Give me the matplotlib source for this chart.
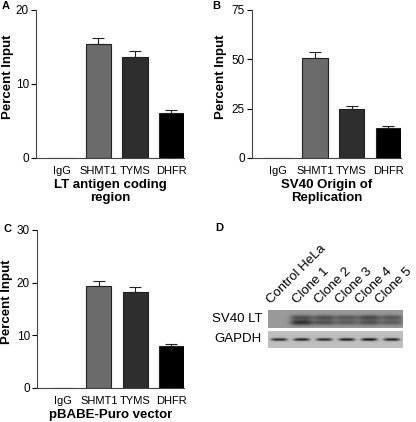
import matplotlib
matplotlib.use("Agg")
import matplotlib.pyplot as plt
import numpy as np

plt.rcParams['font.family'] = ['Liberation Sans', 'DejaVu Sans']

categories = ["IgG", "SHMT1", "TYMS", "DHFR"]
bar_colors = ["#ffffff", "#6b6b6b", "#2e2e2e", "#000000"]

lt_values = [0, 15.45, 13.6, 6.1]
lt_errors = [0, 0.75, 0.8, 0.35]

ori_values = [0, 50.7, 24.8, 15.2]
ori_errors = [0, 2.8, 1.6, 0.8]

pbabe_values = [0, 19.3, 18.2, 7.9]
pbabe_errors = [0, 1.1, 0.9, 0.5]

lane_labels = ["Control HeLa", "Clone 1", "Clone 2", "Clone 3", "Clone 4", "Clone 5"]
lt_upper_band = [0.0, 0.55, 0.55, 0.5, 0.6, 0.5]
lt_lower_band = [0.0, 0.8, 0.55, 0.45, 0.55, 0.45]
gapdh_band = [0.75, 0.8, 0.75, 0.8, 0.85, 0.8]

W, H = 416, 422
fig = plt.figure(figsize=(W / 100, H / 100), dpi=100)

def ax_px(x0, y0, x1, y1):
    return fig.add_axes([x0 / W, 1 - y1 / H, (x1 - x0) / W, (y1 - y0) / H])

def bar_panel(ax, vals, errs, ymax, yticks, xlabel, lx, ly):
    x = np.arange(len(categories))
    ax.bar(x, vals, width=0.69, color=bar_colors, edgecolor="#222222", linewidth=0.8, zorder=2)
    for xi, v, e in zip(x, vals, errs):
        if v > 0:
            ax.errorbar(xi, v, yerr=[[0], [e]], fmt="none", ecolor="#222222",
                        elinewidth=0.8, capsize=4.5, capthick=0.8, zorder=3)
    ax.set_xlim(-0.71, 3.345)
    ax.set_ylim(0, ymax)
    ax.set_yticks(yticks)
    ax.set_xticks(x)
    ax.set_xticklabels(categories, fontsize=8)
    ax.tick_params(axis="x", length=0, pad=6)
    ax.tick_params(axis="y", labelsize=8.5, length=3.5, width=0.8, pad=1.5)
    for s in ["top", "right"]:
        ax.spines[s].set_visible(False)
    for s in ["left", "bottom"]:
        ax.spines[s].set_linewidth(0.8)
        ax.spines[s].set_color("#444444")
    ax.set_ylabel("Percent Input", fontsize=9.5, fontweight="bold")
    ax.yaxis.set_label_coords(lx, ly)
    ax.set_xlabel(xlabel, fontsize=9.5, fontweight="bold", labelpad=2, linespacing=1.1)

axA = ax_px(36, 10, 184, 158)
bar_panel(axA, lt_values, lt_errors, 20, [0, 10, 20], "LT antigen coding\nregion", -0.15, 0.55)
axB = ax_px(252, 10, 401, 158)
bar_panel(axB, ori_values, ori_errors, 75, [0, 25, 50, 75], "SV40 Origin of\nReplication", -0.165, 0.55)
axC = ax_px(37, 230, 184, 388)
bar_panel(axC, pbabe_values, pbabe_errors, 30, [0, 10, 20, 30], "pBABE-Puro vector", -0.16, 0.545)

fig.text(2 / W, 1 - 9 / H, "A", fontsize=8, fontweight="bold")
fig.text(212 / W, 1 - 9 / H, "B", fontsize=8, fontweight="bold")
fig.text(3 / W, 1 - 232 / H, "C", fontsize=8, fontweight="bold")
fig.text(215 / W, 1 - 231 / H, "D", fontsize=8, fontweight="bold")

# Western blot panel D, rendered from band intensities
def blot_image(rows, bands, bg, lane_w, height):
    nx = 6 * 20
    xs = (np.arange(nx) + 0.5) / 20.0
    ys = np.arange(rows) + 0.5
    X, Y = np.meshgrid(xs, ys)
    img = np.full(X.shape, bg)
    for yc, sy, inten in bands:
        for i, a in enumerate(inten):
            if a <= 0:
                continue
            g = np.exp(-((X - (i + 0.5)) / lane_w) ** 4 - ((Y - yc) / sy) ** 2)
            img = img - a * g * height
    return np.clip(img, 0, 1)

lt_img = blot_image(18, [(7.5, 2.6, lt_upper_band), (12.5, 2.8, lt_lower_band)], 0.6, 0.5, 0.5)
gapdh_img = blot_image(17, [(8.5, 1.5, gapdh_band)], 0.75, 0.36, 0.75)

axD1 = ax_px(268, 310, 402, 328)
axD1.imshow(lt_img, cmap="gray", vmin=0, vmax=1, aspect="auto", interpolation="bilinear")
axD1.axis("off")
axD2 = ax_px(268, 331, 402, 348)
axD2.imshow(gapdh_img, cmap="gray", vmin=0, vmax=1, aspect="auto", interpolation="bilinear")
axD2.axis("off")

fig.text(262 / W, 1 - 319 / H, "SV40 LT", fontsize=9.5, va="center", ha="right")
fig.text(262 / W, 1 - 339 / H, "GAPDH", fontsize=9.5, va="center", ha="right")
lane_x = [273, 299, 321, 342, 362, 382]
for lx, lab in zip(lane_x, lane_labels):
    fig.text(lx / W, 1 - 306 / H, lab, fontsize=9.5, rotation=45,
             ha="left", va="bottom", rotation_mode="anchor")

fig.savefig("out.png", dpi=100)
